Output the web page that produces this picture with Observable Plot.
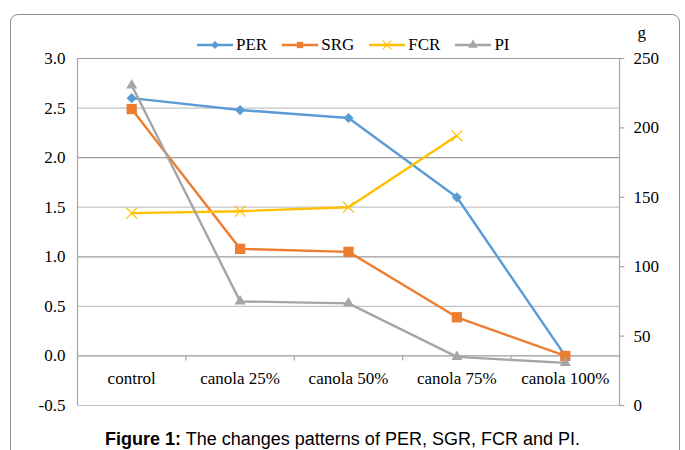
<!DOCTYPE html>
<html>
<head>
<meta charset="utf-8">
<script src="https://cdn.jsdelivr.net/npm/d3@7"></script>
<script src="https://cdn.jsdelivr.net/npm/@observablehq/plot@0.6"></script>
<style>
  body { margin: 0; background: #fff; width: 685px; height: 450px; overflow: hidden; position: relative; font-family: "Liberation Serif", "Times New Roman", serif; }
  #frame { position: absolute; left: 10px; top: 14px; width: 670px; height: 460px; border: 1px solid #8c8c8c; border-radius: 8px; box-sizing: border-box; }
  #chart { position: absolute; left: 0; top: 0; }
  #chart svg, #chart svg text { font-family: "Liberation Serif", "Times New Roman", serif !important; }
  #legend { position: absolute; top: 35px; left: 197px; display: flex; align-items: center; font-size: 17px; color: #000; }
  #legend .item { display: flex; align-items: center; margin-right: 15px; }
  #legend svg { margin-right: 3px; }
  #caption { position: absolute; top: 429px; left: 0; width: 685px; text-align: center; font-family: "Liberation Sans", Arial, sans-serif; font-size: 18px; color: #000; }
</style>
</head>
<body>
<div id="frame"></div>
<div id="chart"></div>
<div id="legend"></div>
<div id="caption"><b>Figure 1:</b> The changes patterns of PER, SGR, FCR and PI.</div>
<script>
const categories = ["control", "canola 25%", "canola 50%", "canola 75%", "canola 100%"];
const PER = [2.60, 2.48, 2.40, 1.60, 0.00];
const SRG = [2.49, 1.08, 1.05, 0.39, 0.00];
const FCR = [1.44, 1.46, 1.50, 2.22, null];
const PI  = [2.73, 0.55, 0.53, -0.01, -0.07];
const leftTicks = [-0.5, 0, 0.5, 1, 1.5, 2, 2.5, 3];
const rightTicks = [0, 50, 100, 150, 200, 250];
const rightUnit = "g";
const seriesNames = ["PER", "SRG", "FCR", "PI"];
const seriesValues = [PER, SRG, FCR, PI];
const colors = ["#5B9BD5", "#ED7D31", "#FFC000", "#A5A5A5"];
const symbols = ["diamond2", "square", "times", "triangle"];
const symbolR = {diamond2: 4.6, square: 5.8, times: 5, triangle: 4.1};

const yMin = leftTicks[0], yMax = leftTicks[leftTicks.length - 1];
const rMax = rightTicks[rightTicks.length - 1];
const toLeft = v => yMin + (v / rMax) * (yMax - yMin);

const rows = [];
seriesNames.forEach((s, k) => seriesValues[k].forEach((v, i) => { if (v != null) rows.push({series: s, i, value: v}); }));
const catRows = categories.map((c, i) => ({c, i}));
const seps = d3.range(categories.length + 1).map(i => i - 0.5);
const xLo = -0.5, xHi = categories.length - 0.5;
const serif = "'Liberation Serif', 'Times New Roman', serif";

const marks = [
  Plot.ruleY(leftTicks, {y: d => d, x1: xLo, x2: xHi, stroke: d => (Math.round(d * 2) % 2 === 0 ? "#9a9a9a" : "#c4c4c4"), strokeWidth: 1.2}),
  Plot.ruleX([xLo], {y1: yMin, y2: yMax, stroke: "#a6a6a6", strokeWidth: 1.2}),
  Plot.ruleX([xHi], {y1: yMin, y2: yMax, stroke: "#a6a6a6", strokeWidth: 1.2}),
  Plot.ruleX(seps, {x: d => d, y1: 0, y2: -0.05, stroke: "#a6a6a6", strokeWidth: 1.2}),
  Plot.ruleY(rightTicks, {y: d => toLeft(d), x1: xHi, x2: xHi + 0.05, stroke: "#a6a6a6", strokeWidth: 1.2}),
  Plot.text(rightTicks, {y: d => toLeft(d), x: xHi, text: d => String(d), dx: 14, textAnchor: "start", fontSize: 17, fontFamily: serif, fill: "#000"}),
  Plot.text([rightUnit], {x: xHi, y: yMax, text: d => d, dx: 18, dy: -26, textAnchor: "start", fontSize: 17, fontFamily: serif, fill: "#000"}),
  Plot.text(catRows, {x: "i", y: 0, text: "c", dy: 23, fontSize: 17, fontFamily: serif, fill: "#000"}),
  Plot.axisY(leftTicks, {anchor: "left", label: null, tickSize: 0, tickPadding: 12, tickFormat: d => d.toFixed(1), fontSize: 17, fontFamily: serif, fill: "#000"})
];
seriesNames.forEach((s, k) => {
  const data = rows.filter(r => r.series === s);
  marks.push(Plot.line(data, {x: "i", y: "value", stroke: colors[k], strokeWidth: 2.4}));
});
seriesNames.forEach((s, k) => {
  const data = rows.filter(r => r.series === s);
  if (symbols[k] === "times") {
    marks.push(Plot.dot(data, {x: "i", y: "value", symbol: symbols[k], r: symbolR[symbols[k]], stroke: colors[k], fill: "none", strokeWidth: 1.2}));
  } else {
    marks.push(Plot.dot(data, {x: "i", y: "value", symbol: symbols[k], r: symbolR[symbols[k]], fill: colors[k], stroke: "none"}));
  }
});

const chart = Plot.plot({
  width: 685,
  height: 420,
  marginLeft: 77,
  marginRight: 66,
  marginTop: 58,
  marginBottom: 15,
  style: {fontFamily: serif, fontSize: "17px", background: "transparent", overflow: "visible"},
  x: {domain: [xLo, xHi], axis: null},
  y: {domain: [yMin, yMax], axis: null},
  marks
});
document.getElementById("chart").appendChild(chart);

const legend = d3.select("#legend");
const symMap = {diamond2: d3.symbolDiamond2, square: d3.symbolSquare, times: d3.symbolTimes, triangle: d3.symbolTriangle};
seriesNames.forEach((s, k) => {
  const item = legend.append("div").attr("class", "item");
  const svg = item.append("svg").attr("width", 36).attr("height", 14);
  svg.append("line").attr("x1", 0).attr("x2", 36).attr("y1", 7).attr("y2", 7).attr("stroke", colors[k]).attr("stroke-width", 2.4);
  const p = svg.append("path").attr("transform", "translate(18,7)")
    .attr("d", d3.symbol(symMap[symbols[k]], symbols[k] === "times" ? 50 : 40)());
  if (symbols[k] === "times") p.attr("fill", "none").attr("stroke", colors[k]).attr("stroke-width", 1.2);
  else p.attr("fill", colors[k]);
  item.append("span").text(s);
});
</script>
</body>
</html>
